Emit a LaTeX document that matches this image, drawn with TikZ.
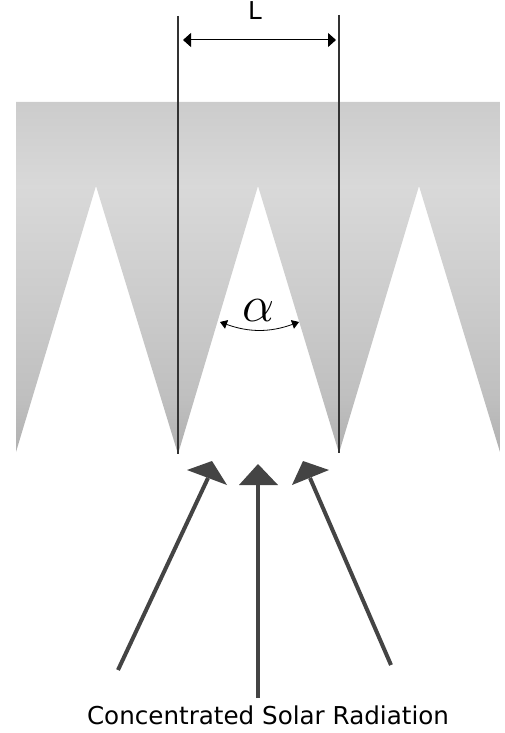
\documentclass[tikz,border=0pt]{standalone}
\usepackage{amsmath,amssymb}
\usepackage{fontspec}
\usepackage{tikz}
\usetikzlibrary{arrows.meta}
\setsansfont{DejaVu Sans}
\definecolor{raydark}{HTML}{444444}
\pgfdeclareverticalshading{grooveshade}{100bp}{
    color(0bp)=(black!31); color(25bp)=(black!31);
    color(33bp)=(black!25); color(47bp)=(black!20);
    color(63bp)=(black!15); color(75bp)=(black!20); color(100bp)=(black!20)}

\begin{document}
\begin{tikzpicture}[
        x=1pt, y=-1pt,
        caption/.style={font=\sffamily\fontsize{24.6}{28}\selectfont, inner sep=0pt},
        guide/.style={draw=black!80, line width=1.1pt},
        span/.style={draw=black, line width=1pt, {Triangle[length=8pt,width=14pt]}-{Triangle[length=8pt,width=14pt]}},
        ray/.style={draw=raydark, line width=4pt},
        rayhead/.style={fill=raydark}
    ]
        \useasboundingbox (0, 0) rectangle (504, 733);

        \coordinate (g1) at (178, 454);
        \coordinate (g2) at (339, 453);
        \coordinate (g1top) at (178, 16);
        \coordinate (g2top) at (339, 15);

        \path[shading=grooveshade] (16, 102) -- (500, 102) -- (500, 452) -- (419, 186) -- (g2) -- (258, 186)
            -- (g1) -- (96, 186) -- (16, 452) -- cycle;

        \draw[guide] (g1top) -- (g1);
        \draw[guide] (g2top) -- (g2);

        \coordinate (sl) at (183, 40);
        \coordinate (sr) at (336, 40);
        \draw[span] (sl) -- (sr);
        \node[caption] (len) at (255, 11) {L};

        \coordinate (al) at (220, 322);
        \coordinate (ar) at (299, 322);
        \draw[black, line width=0.8pt, {Triangle[length=7pt,width=9pt]}-{Triangle[length=7pt,width=9pt]}]
            (al) to[bend right=20] (ar);
        \node[inner sep=0pt, scale=2.05, font=\Huge] (angle) at (259, 311) {$\alpha$};

        \coordinate (r1) at (118, 670);
        \coordinate (r2) at (258, 698);
        \coordinate (r3) at (391, 665);
        \coordinate (h1) at (208, 478);
        \coordinate (h2) at (258, 485);
        \coordinate (h3) at (310, 478);

        \draw[ray] (r1) -- (h1);
        \draw[ray] (r2) -- (h2);
        \draw[ray] (r3) -- (h3);

        \fill[rayhead] (187, 470) -- (212, 461) -- (227, 485) -- cycle;
        \fill[rayhead] (239, 485) -- (258, 464) -- (278, 485) -- cycle;
        \fill[rayhead] (329, 470) -- (303, 461) -- (292, 485) -- cycle;

        \node[caption] (cap) at (268, 715) {Concentrated Solar Radiation};
    \end{tikzpicture}
\end{document}
